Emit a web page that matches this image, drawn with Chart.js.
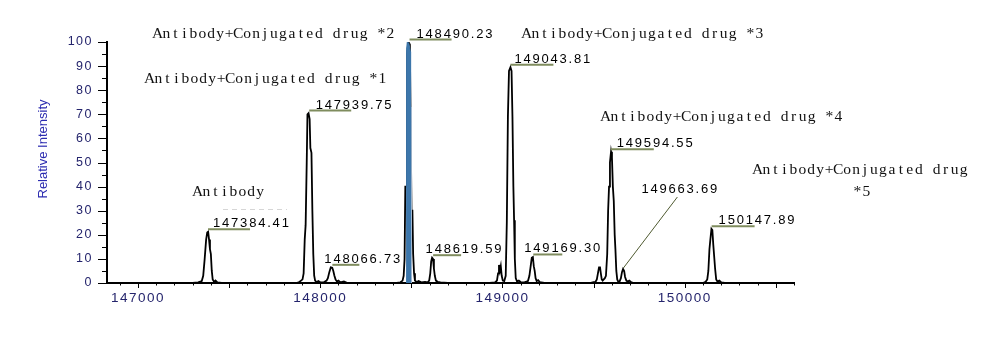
<!DOCTYPE html>
<html>
<head>
<meta charset="utf-8">
<script src="https://cdn.jsdelivr.net/npm/chart.js@4.4.1/dist/chart.umd.min.js"></script>
<style>
    html, body { margin: 0; padding: 0; background: #fff; }
    #wrap { width: 985px; height: 340px; }
</style>
</head>
<body>
<div id="wrap"><canvas id="massChart" width="985" height="340"></canvas></div>
<script>
// deconvoluted spectrum trace
const specMass = [
    146830, 147300, 147330, 147350, 147358, 147366, 147374, 147380, 147385, 147390, 147395, 147400, 147405, 147410, 147418, 147425, 147435, 147460,
    147870, 147885, 147895, 147903, 147909, 147915, 147920, 147926, 147930, 147936, 147942, 147946, 147952, 147957, 147962, 147967, 147972, 147980, 147990, 148000,
    148020, 148035, 148042, 148050, 148058, 148066, 148072, 148078, 148084, 148092, 148100, 148110, 148130, 148150,
    148420, 148440, 148452, 148458, 148463, 148467, 148472, 148476, 148484, 148492, 148497, 148501, 148506, 148510, 148515, 148520, 148530, 148540, 148555, 148575,
    148590, 148598, 148604, 148609, 148614, 148619, 148624, 148629, 148635, 148645, 148660, 148700,
    148930, 148960, 148970, 148976, 148981, 148986, 148991, 148996, 149002, 149010, 149018, 149024, 149030, 149036, 149044, 149050, 149055, 149060, 149064, 149068, 149073, 149080, 149090, 149100,
    149120, 149140, 149148, 149155, 149161, 149167, 149172, 149177, 149182, 149188, 149196, 149205, 149230,
    149480, 149500, 149510, 149518, 149524, 149530, 149535, 149540, 149545, 149550, 149556, 149562, 149568, 149575, 149580, 149585, 149590, 149596, 149601, 149606, 149611, 149616, 149620, 149625, 149630, 149636,
    149642, 149650, 149656, 149662, 149668, 149673, 149680, 149688, 149696, 149705, 149720,
    150100, 150115, 150124, 150130, 150136, 150141, 150147, 150152, 150157, 150162, 150167, 150173, 150180, 150190, 150200, 150220, 150600
];
const specIntensity = [
    0, 0, 0.3, 0.8, 3, 10, 18, 21, 21.3, 18, 14, 12, 5, 1.5, 0.5, 1, 0.3, 0,
    0, 0.4, 1, 1.5, 4, 18, 24, 50, 70, 70.5, 68, 56, 54, 30, 12, 3, 1, 0.4, 0.8, 0.3,
    0.3, 1, 2, 4.5, 6.5, 6.3, 5, 3, 1.5, 0.6, 1, 0.3, 0.6, 0,
    0, 0.3, 1, 3, 10, 40, 40, 95, 100, 99, 60, 30, 30, 12, 4, 1, 0.4, 0.8, 0.3, 0.5,
    0.3, 1, 4, 9, 10.5, 10, 6, 3, 1, 0.5, 0.3, 0,
    0, 0.3, 1, 4, 7.5, 5, 7, 3, 1, 0.8, 3, 25, 69, 88, 89.5, 88, 69, 40, 26, 10, 2, 0.6, 1, 0.4,
    0.3, 0.8, 3, 7, 10.5, 10.8, 7, 5, 2, 0.8, 1.2, 0.4, 0,
    0, 0.4, 0.4, 1.5, 4, 6.5, 6.8, 4, 1.5, 1, 1.5, 2, 3, 12, 30, 40, 50, 54.5, 52, 40, 34, 20, 14, 5, 1.5, 0.5,
    0.5, 2, 4.5, 5.8, 5, 2.5, 1, 0.6, 1, 0.4, 0,
    0, 0.5, 1.5, 5, 14, 18, 22.5, 22, 16, 11, 6, 1.5, 0.6, 1, 0.3, 0, 0
];

// highlighted main peak (filled)
const mainMass = [148473, 148474, 148478, 148486, 148495, 148496];
const mainIntensity = [0, 97, 100, 99.6, 96, 0];
const mainEdgeMass = [148495, 148496, 148503, 148504];
const mainEdgeIntensity = [0, 73, 73, 0];

// labelled peaks
const peakMass = [147384.41, 147939.75, 148066.73, 148490.23, 148619.59, 149043.81, 149169.30, 149594.55, 149663.69, 150147.89];
const peakTop = [21.3, 70.5, 6.5, 100, 10.5, 89.5, 10.8, 54.5, 5.8, 22.5];

// group names
const groupNames = [
    "Antibody+Conjugated drug *2",
    "Antibody+Conjugated drug *1",
    "Antibody",
    "Antibody+Conjugated drug *3",
    "Antibody+Conjugated drug *4",
    "Antibody+Conjugated drug",
    "*5"
];

// axes
const xRange = [146830, 150600];
const yRange = [0, 100];
const xTickValues = [147000, 148000, 149000, 150000];
const yTickValues = [0, 10, 20, 30, 40, 50, 60, 70, 80, 90, 100];
const yTitle = "Relative Intensity";

// label placement (px, relative to the peak apex)
const labelDx = [5, 6.5, -8, 7, -7.5, 4, -9, 6, 18, 7];
const leaderLen = [42, 42, 27, 42, 28, 43, 29, 43, 0, 43];
const diagonalLabel = 8;
const groupPos = [[153, 34], [145, 79], [193, 192], [522, 34], [601, 117], [753, 170], [853, 192]];
const charCell = 8.96;

function toPoints(xs, ys) {
    return xs.map((v, i) => ({ x: v, y: ys[i] }));
}

// half-width serif text, one character per fixed cell
function drawCellText(ctx, text, x, y) {
    for (let k = 0; k < text.length; k++) {
        const ch = text[k];
        const w = ctx.measureText(ch).width;
        ctx.fillText(ch, x + k * charCell + (charCell - w) / 2, y);
    }
}

const spacingPlugin = {
    id: "spacing",
    beforeDraw(chart) {
        chart.ctx.letterSpacing = "1.5px";
    },
    beforeDatasetsDraw(chart) {
        chart.ctx.letterSpacing = "0px";
    }
};

const decorPlugin = {
    id: "decor",
    afterDraw(chart) {
        const ctx = chart.ctx;
        const xs = chart.scales.x;
        const ys = chart.scales.y;
        const area = chart.chartArea;

        ctx.save();
        // tick marks
        ctx.strokeStyle = "#000";
        ctx.lineWidth = 1;
        ctx.beginPath();
        for (let v = 146900; v <= xRange[1]; v += 100) {
            const px = Math.round(xs.getPixelForValue(v)) + 0.5;
            const len = v % 500 === 0 ? 5 : 2.5;
            ctx.moveTo(px, area.bottom);
            ctx.lineTo(px, area.bottom + len);
        }
        for (let v = yRange[0]; v <= yRange[1]; v += 5) {
            const py = Math.round(ys.getPixelForValue(v)) + 0.5;
            const len = v % 10 === 0 ? 9 : 5;
            ctx.moveTo(area.left, py);
            ctx.lineTo(area.left - len, py);
        }
        ctx.stroke();

        // y title
        ctx.save();
        ctx.translate(43, 149);
        ctx.rotate(-Math.PI / 2);
        ctx.letterSpacing = "0px";
        ctx.font = '13px "Liberation Sans", Arial, sans-serif';
        ctx.fillStyle = "#2b2bb0";
        ctx.textAlign = "center";
        ctx.textBaseline = "middle";
        ctx.fillText(yTitle, 0, 0);
        ctx.restore();

        // peak labels
        ctx.font = '13px "Liberation Sans", Arial, sans-serif';
        ctx.letterSpacing = "1.8px";
        ctx.textBaseline = "alphabetic";
        ctx.textAlign = "left";
        ctx.fillStyle = "#000";
        peakMass.forEach((m, i) => {
            const px = xs.getPixelForValue(m);
            const py = ys.getPixelForValue(peakTop[i]);
            const text = m.toFixed(2);
            if (i === diagonalLabel) {
                ctx.strokeStyle = "#4f5a30";
                ctx.lineWidth = 1;
                ctx.beginPath();
                ctx.moveTo(px, py - 1);
                ctx.lineTo(px + 54, py - 72);
                ctx.stroke();
                ctx.fillText(text, px + labelDx[i], py - 76);
            } else {
                const ly = py - 2.5;
                ctx.strokeStyle = "#7f8c5e";
                ctx.lineWidth = 2;
                ctx.beginPath();
                ctx.moveTo(px, ly);
                ctx.lineTo(px + leaderLen[i], ly);
                ctx.stroke();
                ctx.fillText(text, px + labelDx[i], ly - 2);
            }
        });

        // faint leftover dashes under "Antibody"
        ctx.strokeStyle = "#d6d6d6";
        ctx.lineWidth = 1;
        ctx.setLineDash([5, 4]);
        ctx.beginPath();
        ctx.moveTo(223, 209.5);
        ctx.lineTo(287, 209.5);
        ctx.stroke();
        ctx.setLineDash([]);

        // group names
        ctx.letterSpacing = "0px";
        ctx.font = '15.5px "Liberation Serif", "DejaVu Serif", serif';
        ctx.fillStyle = "#111";
        ctx.textBaseline = "middle";
        groupNames.forEach((name, i) => {
            drawCellText(ctx, name, groupPos[i][0], groupPos[i][1]);
        });
        ctx.restore();
    }
};

function renderChart() {
    const ctx = document.getElementById("massChart").getContext("2d");
    new Chart(ctx, {
        type: "line",
        data: {
            datasets: [{
                data: toPoints(mainMass, mainIntensity),
                borderColor: "#3d77ab",
                backgroundColor: "#3d77ab",
                borderWidth: 1,
                fill: "origin",
                pointRadius: 0
            }, {
                data: toPoints(mainEdgeMass, mainEdgeIntensity),
                borderColor: "rgba(0,0,0,0)",
                backgroundColor: "#b7c8d9",
                borderWidth: 0,
                fill: "origin",
                pointRadius: 0
            }, {
                data: toPoints(specMass, specIntensity),
                borderColor: "#000",
                borderWidth: 1.8,
                fill: false,
                pointRadius: 0,
                tension: 0
            }]
        },
        options: {
            responsive: false,
            animation: false,
            layout: { padding: { top: 42, right: 191, left: 0, bottom: 0 } },
            plugins: {
                legend: { display: false },
                tooltip: { enabled: false }
            },
            scales: {
                x: {
                    type: "linear",
                    min: xRange[0],
                    max: xRange[1],
                    afterBuildTicks: s => { s.ticks = xTickValues.map(v => ({ value: v })); },
                    afterFit: s => { s.height = 57; },
                    grid: { display: false, drawTicks: false },
                    border: { display: true, color: "#000", width: 2 },
                    ticks: {
                        padding: 7,
                        color: "#24246c",
                        font: { family: '"Liberation Sans", Arial, sans-serif', size: 13.5 },
                        maxRotation: 0,
                        autoSkip: false,
                        callback: v => String(v)
                    }
                },
                y: {
                    min: yRange[0],
                    max: yRange[1],
                    afterBuildTicks: s => { s.ticks = yTickValues.map(v => ({ value: v })); },
                    afterFit: s => { s.width = 107; },
                    grid: { display: false, drawTicks: false },
                    border: { display: true, color: "#000", width: 2 },
                    ticks: {
                        padding: 14,
                        color: "#24246c",
                        font: { family: '"Liberation Sans", Arial, sans-serif', size: 12.5 },
                        autoSkip: false,
                        callback: v => String(v)
                    }
                }
            }
        },
        plugins: [spacingPlugin, decorPlugin]
    });
}

document.addEventListener("DOMContentLoaded", function () {
    renderChart();
});
</script>
</body>
</html>
